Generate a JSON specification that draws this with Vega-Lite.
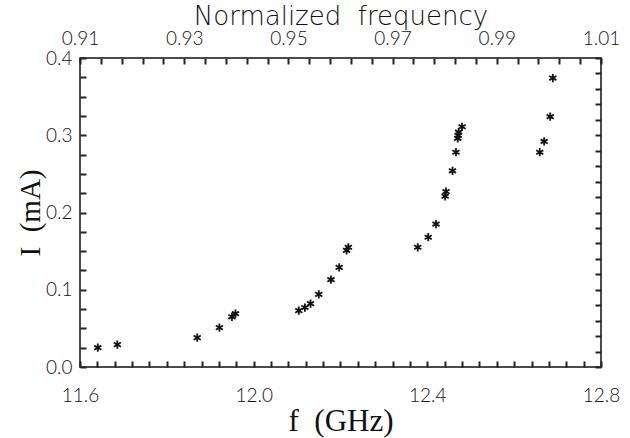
{
  "$schema": "https://vega.github.io/schema/vega-lite/v6.json",
  "width": 521,
  "height": 309,
  "autosize": "none",
  "padding": {"left": 80, "top": 58, "right": 29, "bottom": 71},
  "background": "white",
  "config": {
    "view": {"stroke": "#111", "strokeWidth": 1.5},
    "axis": {
      "grid": false,
      "domain": false,
      "ticks": true,
      "labelFont": "Lato",
      "labelFontWeight": 300,
      "labelFontSize": 19,
      "labelColor": "#111",
      "labelOverlap": false,
      "labelFlush": false,
      "titleColor": "#111",
      "titleFontWeight": "normal"
    }
  },
  "data": {
    "values": [
      {"f": 11.641, "I": 0.025},
      {"f": 11.686, "I": 0.029},
      {"f": 11.870, "I": 0.038},
      {"f": 11.921, "I": 0.051},
      {"f": 11.950, "I": 0.065},
      {"f": 11.958, "I": 0.069},
      {"f": 12.104, "I": 0.073},
      {"f": 12.118, "I": 0.077},
      {"f": 12.131, "I": 0.082},
      {"f": 12.150, "I": 0.094},
      {"f": 12.178, "I": 0.113},
      {"f": 12.197, "I": 0.129},
      {"f": 12.214, "I": 0.151},
      {"f": 12.218, "I": 0.155},
      {"f": 12.378, "I": 0.155},
      {"f": 12.402, "I": 0.168},
      {"f": 12.420, "I": 0.185},
      {"f": 12.441, "I": 0.221},
      {"f": 12.443, "I": 0.227},
      {"f": 12.458, "I": 0.254},
      {"f": 12.466, "I": 0.278},
      {"f": 12.470, "I": 0.296},
      {"f": 12.471, "I": 0.300},
      {"f": 12.472, "I": 0.304},
      {"f": 12.480, "I": 0.311},
      {"f": 12.659, "I": 0.278},
      {"f": 12.669, "I": 0.292},
      {"f": 12.683, "I": 0.324},
      {"f": 12.689, "I": 0.374}
    ]
  },
  "layer": [
    {
      "mark": {
        "type": "point",
        "shape": "M0,-1L0,1M-0.866,-0.5L0.866,0.5M-0.866,0.5L0.866,-0.5",
        "filled": false,
        "stroke": "#111",
        "strokeWidth": 1.8,
        "size": 68,
        "opacity": 1
      },
      "encoding": {
        "x": {
          "field": "f",
          "type": "quantitative",
          "scale": {"domain": [11.6, 12.8], "zero": false, "nice": false},
          "axis": {
            "orient": "bottom",
            "tickColor": "#222222",
            "tickWidth": 2,
            "values": [11.6, 11.64, 11.68, 11.72, 11.76, 11.8, 11.84, 11.88, 11.92, 11.96, 12.0, 12.04, 12.08, 12.12, 12.16, 12.2, 12.24, 12.28, 12.32, 12.36, 12.4, 12.44, 12.48, 12.52, 12.56, 12.6, 12.64, 12.68, 12.72, 12.76, 12.8],
            "labelExpr": "abs(datum.value*2.5 - round(datum.value*2.5)) < 0.001 ? format(datum.value, '.1f') : ''",
            "offset": -6,
            "tickSize": 6,
            "labelPadding": 19,
            "title": "f\u00a0\u00a0(GHz)",
            "titleFont": "Liberation Serif",
            "titleFontSize": 31,
            "titlePadding": 1
          }
        },
        "y": {
          "field": "I",
          "type": "quantitative",
          "scale": {"domain": [0, 0.4], "nice": false},
          "axis": {
            "orient": "left",
            "tickColor": "#222222",
            "tickWidth": 2,
            "values": [0, 0.025, 0.05, 0.075, 0.1, 0.125, 0.15, 0.175, 0.2, 0.225, 0.25, 0.275, 0.3, 0.325, 0.35, 0.375, 0.4],
            "labelExpr": "abs(datum.value*10 - round(datum.value*10)) < 0.001 ? format(datum.value, '.1f') : ''",
            "offset": -6,
            "tickSize": 6,
            "labelPadding": 8,
            "title": "I\u00a0\u00a0(mA)",
            "titleFont": "Liberation Serif",
            "titleFontSize": 29,
            "titlePadding": 0
          }
        }
      }
    },
    {
      "mark": {"type": "point", "opacity": 0},
      "encoding": {
        "x": {
          "field": "f",
          "type": "quantitative",
          "scale": {"domain": [11.6, 12.8], "zero": false, "nice": false},
          "axis": {
            "orient": "top",
            "tickColor": "#222222",
            "tickWidth": 2,
            "values": [11.6, 11.648, 11.696, 11.744, 11.792, 11.84, 11.888, 11.936, 11.984, 12.032, 12.08, 12.128, 12.176, 12.224, 12.272, 12.32, 12.368, 12.416, 12.464, 12.512, 12.56, 12.608, 12.656, 12.704, 12.752, 12.8],
            "labelExpr": "abs((datum.value-11.6)/0.24 - round((datum.value-11.6)/0.24)) < 0.01 ? format((datum.value-11.6)/12+0.91, '.2f') : ''",
            "offset": -6,
            "tickSize": 6,
            "labelPadding": 10,
            "title": "Normalized\u00a0\u00a0frequency",
            "titleFont": "DejaVu Sans",
            "titleFontWeight": 200,
            "titleFontSize": 26,
            "titlePadding": 0
          }
        },
        "y": {
          "field": "I",
          "type": "quantitative",
          "scale": {"domain": [0, 0.4], "nice": false},
          "axis": {
            "orient": "right",
            "tickColor": "#222222",
            "tickWidth": 2,
            "values": [0, 0.02, 0.04, 0.06, 0.08, 0.1, 0.12, 0.14, 0.16, 0.18, 0.2, 0.22, 0.24, 0.26, 0.28, 0.3, 0.32, 0.34, 0.36, 0.38, 0.4],
            "labels": false,
            "offset": -6,
            "tickSize": 6,
            "title": null
          }
        }
      }
    }
  ],
  "resolve": {"scale": {"x": "independent", "y": "independent"}, "axis": {"x": "independent", "y": "independent"}}
}
